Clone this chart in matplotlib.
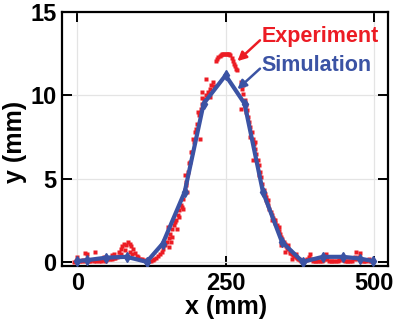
import matplotlib
matplotlib.use("Agg")
import matplotlib.pyplot as plt

plt.rcParams['font.family'] = ['Liberation Sans', 'DejaVu Sans']
plt.rcParams['font.weight'] = 'bold'

# Simulation (blue line with markers)
sim_x = [0, 16, 48, 83, 117, 144, 181, 213, 250, 282, 313, 345, 380, 414, 448, 476, 498]
sim_y = [0.05, 0.1, 0.25, 0.3, 0.0, 1.1, 4.2, 9.5, 11.2, 9.5, 4.2, 1.2, 0.0, 0.3, 0.3, 0.2, 0.05]

# Experiment (red dots)
exp_base_left_x = [-5, -2, 1, 4, 7, 10, 13, 16, 19, 22, 25, 28, 31, 34, 37, 40, 43, 46, 49, 52,
                   55, 58, 61, 64, 67, 70, 100, 103, 106, 109, 112, 115, 118, 121, 124, 127]
exp_base_left_y = [0.02, 0.05, 0.03, 0.08, 0.04, 0.1, 0.06, 0.12, 0.05, 0.08, 0.1, 0.06, 0.04, 0.09,
                   0.05, 0.07, 0.1, 0.08, 0.12, 0.15, 0.2, 0.18, 0.22, 0.25, 0.3, 0.35, 0.35, 0.3,
                   0.2, 0.15, 0.1, 0.05, 0.02, 0.05, 0.08, 0.12]
exp_bump_x = [0, 12, 16, 30, 45, 58, 62, 70, 73, 76, 79, 82, 85, 88, 91, 94, 97, 74, 80, 88, 92]
exp_bump_y = [0.3, 0.55, 0.45, 0.6, 0.3, 0.4, 0.5, 0.6, 0.8, 0.95, 1.1, 1.0, 1.2, 1.05, 0.95, 0.8,
              0.55, 0.5, 0.7, 0.6, 0.45]
exp_rise_x = [130, 133, 136, 139, 142, 145, 148, 151, 154, 157, 160, 163, 166, 169, 172, 175, 178,
              181, 184, 187, 190, 193, 196, 199, 202, 205, 208, 211, 214, 217, 220, 223, 226, 229]
exp_rise_y = [0.15, 0.25, 0.35, 0.45, 0.6, 0.8, 1.0, 1.2, 1.45, 1.7, 1.95, 2.2, 2.5, 2.8, 3.1, 3.4,
              3.8, 4.3, 4.8, 5.4, 6.0, 6.6, 7.2, 7.8, 8.3, 8.8, 9.2, 9.5, 9.8, 10.0, 10.2, 10.4,
              10.6, 10.8]
exp_rise_sc_x = [152, 155, 160, 168, 172, 176, 183, 192, 189, 195, 200, 206, 210, 211, 217, 223,
                 231, 203, 185, 182, 178, 165, 158]
exp_rise_sc_y = [2.1, 0.9, 1.5, 2.0, 2.7, 3.3, 4.6, 6.6, 5.96, 7.35, 7.95, 7.35, 9.86, 10.2, 10.96,
                 9.9, 10.56, 9.0, 4.2, 5.2, 3.2, 2.4, 1.2]
exp_peak_x = [234, 236, 238, 240, 242, 244, 246, 248, 250, 252, 254, 256, 258, 260, 262, 264, 266,
              268, 270]
exp_peak_y = [12.05, 12.2, 12.3, 12.37, 12.42, 12.45, 12.47, 12.48, 12.5, 12.5, 12.48, 12.45, 12.4,
              12.25, 12.07, 11.9, 11.75, 11.6, 11.5]
exp_fall_x = [276, 278, 280, 282, 284, 286, 288, 290, 292, 294, 296, 298, 300, 302, 304, 306, 308,
              310, 312, 314, 316, 318, 320, 322, 324, 326, 328, 330, 332, 334, 336, 338, 340, 342,
              344, 346, 348, 350, 352, 354, 356, 358, 360, 362, 364, 366, 368, 370, 372, 374, 376,
              378, 380]
exp_fall_y = [10.8, 10.4, 10.1, 9.7, 9.4, 9.1, 8.7, 8.4, 8.1, 7.8, 7.4, 7.1, 6.8, 6.5, 6.1, 5.8,
              5.4, 5.1, 4.7, 4.3, 4.1, 3.9, 3.6, 3.4, 3.2, 3.0, 2.8, 2.65, 2.5, 2.35, 2.2, 2.0, 1.85,
              1.65, 1.5, 1.35, 1.2, 1.05, 0.95, 0.85, 0.75, 0.65, 0.55, 0.5, 0.4, 0.35, 0.3, 0.25,
              0.2, 0.15, 0.1, 0.08, 0.05]
exp_fall_sc_x = [276, 297, 280, 285, 292, 300, 306, 318, 322, 328, 334, 340, 343, 350, 355, 358,
                 362, 368]
exp_fall_sc_y = [9.15, 6.1, 10.6, 9.0, 7.5, 7.2, 5.2, 3.7, 3.7, 2.5, 2.5, 2.1, 1.0, 0.6, 1.0, 0.55,
                 0.2, 0.5]
exp_base_right_x = [382, 385, 388, 391, 392, 394, 397, 400, 403, 406, 409, 412, 415, 418, 420, 421,
                    424, 427, 430, 433, 436, 439, 442, 445, 448, 451, 454, 457, 460, 463, 466, 469,
                    470, 472, 475, 476, 478, 481, 484, 487, 490, 492, 493, 496, 499]
exp_base_right_y = [0.05, 0.1, 0.15, 0.3, 0.5, 0.2, 0.08, 0.05, 0.04, 0.06, 0.05, 0.08, 0.1, 0.2,
                    0.45, 0.15, 0.06, 0.05, 0.04, 0.06, 0.05, 0.08, 0.1, 0.2, 0.12, 0.06, 0.05,
                    0.04, 0.06, 0.08, 0.15, 0.3, 0.6, 0.2, 0.3, 0.55, 0.1, 0.06, 0.05, 0.08, 0.1,
                    0.2, 0.08, 0.05, 0.04]

x_ticks = [0, 250, 500]
y_ticks = [0, 5, 10, 15]

RED = '#EC1C24'
BLUE = '#3B53A4'

exp_x = (exp_base_left_x + exp_bump_x + exp_rise_x + exp_rise_sc_x + exp_peak_x + exp_fall_x
         + exp_fall_sc_x + exp_base_right_x)
exp_y = (exp_base_left_y + exp_bump_y + exp_rise_y + exp_rise_sc_y + exp_peak_y + exp_fall_y
         + exp_fall_sc_y + exp_base_right_y)

fig = plt.figure(figsize=(3.95, 3.26), dpi=100)
ax = fig.add_axes([62/395, 1-266/326, 326/395, 254/326])

ax.plot(exp_x, exp_y, ls='none', marker='s', ms=2.3, mfc=RED, mec='none', zorder=3)
ax.plot(sim_x, sim_y, color=BLUE, lw=3.0, marker='d', ms=5, mfc=BLUE, mec=BLUE, zorder=4)

ax.set_xlim(-26, 524)
ax.set_ylim(-0.25, 15)
ax.set_xticks(x_ticks)
ax.set_yticks(y_ticks)
ax.grid(True, color='#E4E4E4', lw=0.9, zorder=0)
ax.set_axisbelow(True)
for s in ax.spines.values():
    s.set_linewidth(1.6)
ax.tick_params(direction='in', top=True, right=True, length=7.5, width=1.4,
               labelsize=17, pad=4)
for lab in ax.get_xticklabels() + ax.get_yticklabels():
    lab.set_fontweight('bold')

ax.set_xlabel('x (mm)', fontsize=18, fontweight='bold')
ax.set_ylabel('y (mm)', fontsize=18, fontweight='bold')
ax.xaxis.set_label_coords(0.503, -0.116)
ax.yaxis.set_label_coords(-0.108, 0.49)

# arrows
ax.annotate('', xy=(270, 12.05), xytext=(308, 13.3),
            arrowprops=dict(arrowstyle='-|>', color=RED, lw=1.8, mutation_scale=13,
                            shrinkA=0, shrinkB=0), annotation_clip=False)
ax.annotate('', xy=(270, 10.36), xytext=(308, 11.6),
            arrowprops=dict(arrowstyle='-|>', color=BLUE, lw=1.8, mutation_scale=13,
                            shrinkA=0, shrinkB=0), annotation_clip=False)
ax.text(311, 13.55, 'Experiment', color=RED, fontsize=15.5, fontweight='bold',
        va='center', ha='left')
ax.text(311, 11.8, 'Simulation', color=BLUE, fontsize=15.5, fontweight='bold',
        va='center', ha='left')

fig.savefig('out.png', dpi=100)
